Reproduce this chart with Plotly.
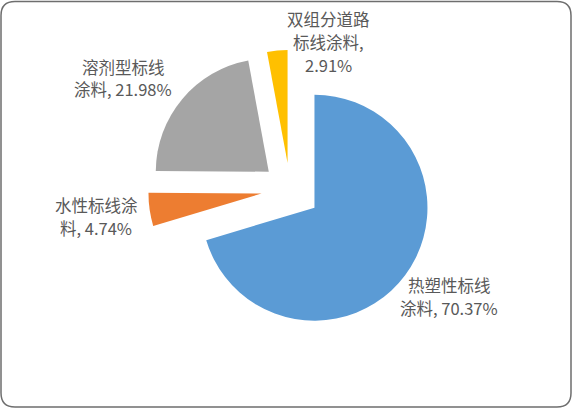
import plotly.graph_objects as go

# market share of road marking paint types
categories = ["热塑性标线涂料", "水性标线涂料", "溶剂型标线涂料", "双组分道路标线涂料"]
shares = [70.37, 4.74, 21.98, 2.91]
colors = ["#5B9BD5", "#ED7D31", "#A5A5A5", "#FFC000"]
pulls = [0.27, 0.255, 0.245, 0.235]

# label centres in pixels (x, y from top)
label_pos = [(449, 296), (96, 216), (123, 78), (328, 42)]

W, H = 573, 409
LINE_GAP = 23


def label_lines(name, val):
    # break the name every 5 characters, like the original chart
    lines = [name[i:i + 5] for i in range(0, len(name), 5)]
    pct = f"{val:.2f}%"
    if len(lines[-1]) <= 2:
        lines[-1] += ", " + pct
    else:
        lines[-1] += ","
        lines.append(pct)
    return lines


def main():
    fig = go.Figure(go.Pie(
        labels=categories,
        values=shares,
        marker=dict(colors=colors, line=dict(width=0)),
        pull=pulls,
        sort=False,
        direction="clockwise",
        rotation=0,
        textinfo="none",
        hoverinfo="label+percent",
        domain=dict(x=[146.5 / W, 433.5 / W], y=[76 / H, 363 / H]),
        showlegend=False,
    ))

    # text labels next to each slice, one annotation per line
    for name, val, (cx, cy) in zip(categories, shares, label_pos):
        lines = label_lines(name, val)
        top = cy - LINE_GAP * (len(lines) - 1) / 2
        for i, line in enumerate(lines):
            fig.add_annotation(
                x=cx / W, y=1 - (top + i * LINE_GAP) / H,
                xref="paper", yref="paper",
                text=line, showarrow=False,
                xanchor="center", yanchor="middle",
                font=dict(size=16.5, color="#595959", family="Noto Sans CJK SC"),
            )

    # rounded frame around the chart
    x0, x1 = 1 / W, (W - 2) / W
    y0, y1 = 2 / H, (H - 1.5) / H
    rx, ry = 14 / W, 14 / H
    path = (f"M {x0 + rx},{y1} L {x1 - rx},{y1} Q {x1},{y1} {x1},{y1 - ry} "
            f"L {x1},{y0 + ry} Q {x1},{y0} {x1 - rx},{y0} "
            f"L {x0 + rx},{y0} Q {x0},{y0} {x0},{y0 + ry} "
            f"L {x0},{y1 - ry} Q {x0},{y1} {x0 + rx},{y1} Z")
    fig.add_shape(type="path", path=path, xref="paper", yref="paper",
                  line=dict(color="#6e6e6e", width=1.5))

    fig.update_layout(
        width=W, height=H,
        margin=dict(l=0, r=0, t=0, b=0),
        paper_bgcolor="white",
        plot_bgcolor="white",
    )

    # drop the default page margin so the chart sits at the window's corner
    fig.write_html("out.html", config={"displayModeBar": False},
                   post_script="document.body.style.margin='0';")


if __name__ == '__main__':
    main()
